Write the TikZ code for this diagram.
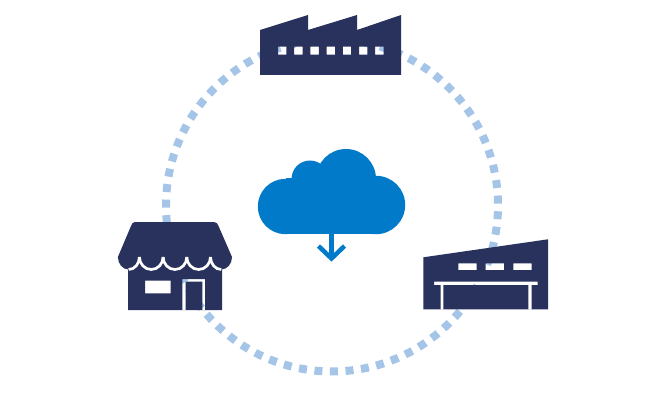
\documentclass[tikz,border=0pt]{standalone}
\usepackage{xcolor}
\usepackage{tikz}
\definecolor{navyicon}{RGB}{41, 49, 93}
\definecolor{cloudblue}{RGB}{0, 122, 201}
\definecolor{ringblue}{RGB}{165, 197, 232}
\begin{document}
\begin{tikzpicture}[x=1pt, y=1pt,
  ring/.style={draw=ringblue, line width=8pt, dash pattern=on 8pt off 7.567pt, dash phase=13.617pt},
  icon/.style={fill=navyicon, even odd rule},
  scallop/.style={draw=white, line width=2.7pt},
  cloudpart/.style={fill=cloudblue},
  droparrow/.style={draw=cloudblue, line width=4.5pt}
]

\useasboundingbox (0, 0) rectangle (670, 400);

\draw[ring] (332, 194.5) circle[radius=166pt];

\fill[icon] (260, 325) -- (260, 370) -- (308, 385) -- (308, 370) -- (357, 385) -- (357, 370) -- (401, 385) -- (401, 325) -- cycle
  foreach \wx in {0, 1, ..., 6} { (278 + 16.2*\wx, 345.3) rectangle +(8.4, 8) };

\fill[icon] (128, 90) rectangle (222, 143)
  (145, 106.7) rectangle (170.7, 119.3)
  (182.3, 90) -- (182.3, 121) -- (205, 121) -- (205, 90) -- (202.3, 90) -- (202.3, 118.3) -- (185.7, 118.3) -- (185.7, 90) -- cycle;
\fill[icon] (135, 178) -- (214, 178) to[out=0, in=110] (218.5, 174) -- (232, 143)
  arc[start angle=0, end angle=-180, x radius=10.75pt, y radius=12.5pt]
  arc[start angle=0, end angle=-180, x radius=11.85pt, y radius=12.5pt]
  arc[start angle=0, end angle=-180, x radius=11.85pt, y radius=12.5pt]
  arc[start angle=0, end angle=-180, x radius=11.85pt, y radius=12.5pt]
  arc[start angle=0, end angle=-180, x radius=10.75pt, y radius=12.5pt]
  -- (131, 174) to[out=70, in=180] (135, 178) -- cycle;
\draw[scallop] (128.65, 130.5) arc[start angle=-90, end angle=0, x radius=10.75pt, y radius=12.5pt];
\draw[scallop] (139.4, 143) arc[start angle=-180, end angle=0, x radius=11.85pt, y radius=12.5pt];
\draw[scallop] (163.1, 143) arc[start angle=-180, end angle=0, x radius=11.85pt, y radius=12.5pt];
\draw[scallop] (186.8, 143) arc[start angle=-180, end angle=0, x radius=11.85pt, y radius=12.5pt];
\draw[scallop] (210.5, 143) arc[start angle=-180, end angle=-90, x radius=10.75pt, y radius=12.5pt];

\fill[icon] (423.3, 90.7) -- (423.3, 142.7) -- (548, 160.7) -- (548, 90.7) -- cycle
  (458.3, 130) rectangle (476.7, 136.7)
  (485.7, 130) rectangle (504, 136.7)
  (513.3, 130) rectangle (531.7, 136.7)
  (434, 118.3) -- (537.7, 118.3) -- (537.7, 115) -- (531.7, 115) -- (531.7, 90.7) -- (528.3, 90.7) -- (528.3, 115)
  -- (443.3, 115) -- (443.3, 90.7) -- (440.7, 90.7) -- (440.7, 115) -- (434, 115) -- cycle;

\fill[cloudpart] (285.5, 193.5) circle[radius=27.7pt];
\fill[cloudpart] (376, 195) circle[radius=29.2pt];
\fill[cloudpart] (346, 221) circle[radius=30pt];
\fill[cloudpart] (310, 221) circle[radius=18.5pt];
\fill[cloudpart] (285.5, 165.7) rectangle (376, 222);

\draw[droparrow] (331.5, 166) -- (331.5, 141);
\draw[droparrow] (318.5, 154) -- (331.5, 141.5) -- (344.5, 154);

\end{tikzpicture}
\end{document}
